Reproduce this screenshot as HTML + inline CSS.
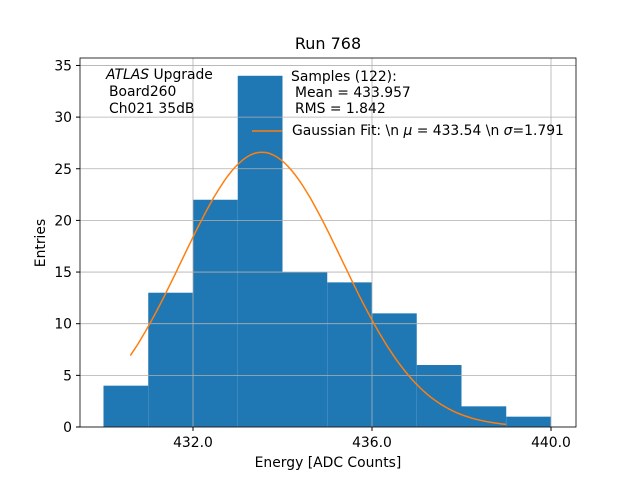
<!DOCTYPE html>
<html><head><meta charset="utf-8"><style>
body{margin:0;background:#fff;font-family:"Liberation Sans","DejaVu Sans",sans-serif;}
svg text{font-family:"DejaVu Sans","Liberation Sans",sans-serif;}
</style></head><body>
<svg id="c" width="640" height="480" xmlns="http://www.w3.org/2000/svg">
<rect width="640" height="480" fill="#fff"/>
<g id="grid"></g>
<g id="bars"></g>
<path id="fit" fill="none" stroke="#ff7f0e" stroke-width="1.5"/>
<rect x="80" y="58" width="496" height="369" fill="none" stroke="#000" stroke-width="0.8"/>
<g id="ticks" font-size="13.9"></g>
<text x="328" y="49" text-anchor="middle" font-size="16">Run 768</text>
<text x="328" y="467" text-anchor="middle" font-size="13.9">Energy [ADC Counts]</text>
<text transform="translate(45,243) rotate(-90)" text-anchor="middle" font-size="13.9">Entries</text>
<g font-size="13.9">
<text x="106" y="79"><tspan font-style="italic">ATLAS</tspan> Upgrade</text>
<text x="109" y="96">Board260</text>
<text x="109" y="113">Ch021 35dB</text>
</g>
<g font-size="13.9">
<text x="291" y="81">Samples (122):</text>
<text x="295" y="97">Mean = 433.957</text>
<text x="295" y="113">RMS = 1.842</text>
<line x1="252" y1="131" x2="282" y2="131" stroke="#ff7f0e" stroke-width="1.5"/>
<text x="292" y="135">Gaussian Fit: \n <tspan font-style="italic">μ</tspan> = 433.54 \n <tspan font-style="italic">σ</tspan>=1.791</text>
</g>
</svg>
<script>
const binEdges=[430,431,432,433,434,435,436,437,438,439,440];
const counts=[4,13,22,34,15,14,11,6,2,1];
const xTicks=[432,436,440];
const xTickLabels=["432.0","436.0","440.0"];
const yTicks=[0,5,10,15,20,25,30,35];
const fitMu=433.54, fitSigma=1.791, fitAmp=26.6, fitRange=[430.6,439.0];
const X=v=>80+(v-429.475)*44.75;
const Y=v=>427-v*10.33;
const NS="http://www.w3.org/2000/svg";
const g=document.getElementById('grid'),b=document.getElementById('bars'),t=document.getElementById('ticks');
function mk(tag,attrs,parent){const e=document.createElementNS(NS,tag);for(const k in attrs)e.setAttribute(k,attrs[k]);parent.appendChild(e);return e;}
counts.forEach((c,i)=>{
 const r=mk('rect',{x:X(binEdges[i]),y:Y(c),width:X(binEdges[i+1])-X(binEdges[i]),height:Y(0)-Y(c),fill:'#1f77b4'},b);
 
 
});
xTicks.forEach((v,i)=>{
 const l=mk('line',{x1:X(v),x2:X(v),y1:58,y2:427,stroke:'#b0b0b0','stroke-width':0.8},b);
 
 
 mk('line',{x1:X(v),x2:X(v),y1:427,y2:431,stroke:'#000'},t);
 const tx=mk('text',{x:X(v),y:447,'text-anchor':'middle'},t);tx.textContent=xTickLabels[i];
 
 
});
yTicks.forEach(v=>{
 const l=mk('line',{x1:80,x2:576,y1:Y(v),y2:Y(v),stroke:'#b0b0b0','stroke-width':0.8},b);
 
 
 mk('line',{x1:76,x2:80,y1:Y(v),y2:Y(v),stroke:'#000'},t);
 const tx=mk('text',{x:72,y:Y(v)+5,'text-anchor':'end'},t);tx.textContent=v;
 
 
});
let d='';
for(let i=0;i<=100;i++){const x=fitRange[0]+(fitRange[1]-fitRange[0])*i/100;
 const y=fitAmp*Math.exp(-((x-fitMu)**2)/(2*fitSigma*fitSigma));
 d+=(i?'L':'M')+X(x).toFixed(1)+','+Y(y).toFixed(1);}
document.getElementById('fit').setAttribute('d',d);
</script>
</body></html>
